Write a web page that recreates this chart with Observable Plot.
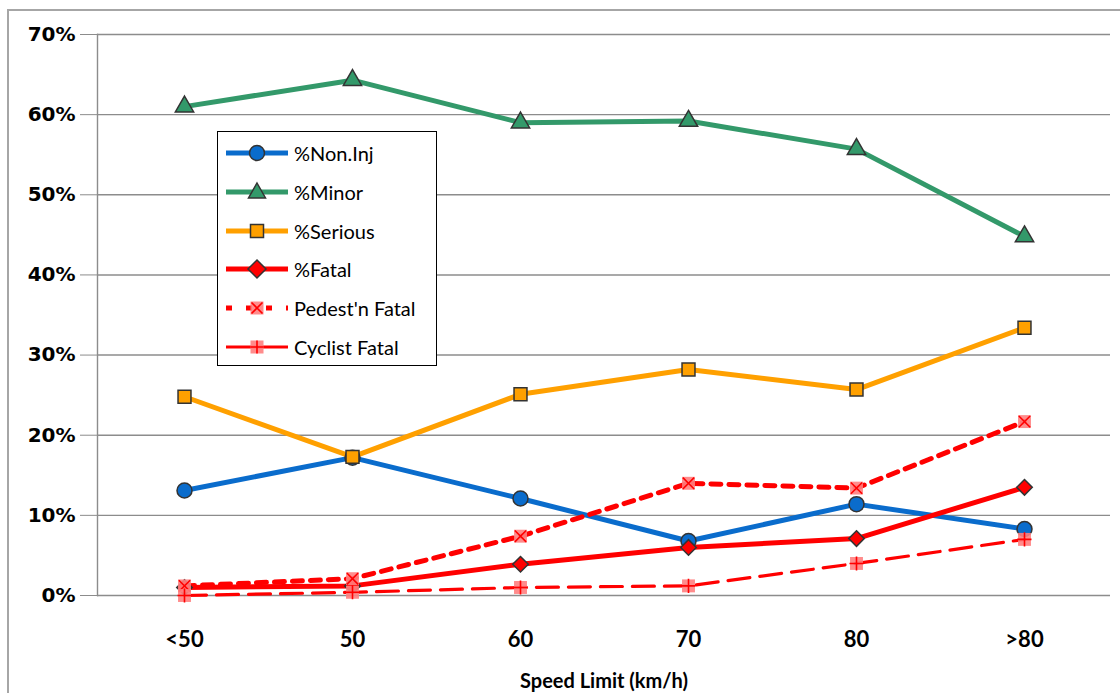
<!DOCTYPE html>
<html><head><meta charset="utf-8">
<script src="https://cdn.jsdelivr.net/npm/d3@7"></script>
<script src="https://cdn.jsdelivr.net/npm/@observablehq/plot@0.6"></script>
<style>
body{margin:0;background:#fff;}
#wrap{position:relative;width:1120px;height:693px;overflow:hidden;background:#fff;}
#frame{position:absolute;left:7px;top:9px;width:1300px;height:900px;border-left:2px solid #a6a6a6;border-top:2px solid #a6a6a6;pointer-events:none;}
#chart{position:absolute;left:0;top:0;}
#legend{position:absolute;left:217px;top:131px;width:218px;height:233px;border:1.5px solid #000;background:#fff;font-family:Lato,"Open Sans",sans-serif;font-size:20px;color:#000;}
.row{position:absolute;left:6px;height:30px;display:flex;align-items:center;}
.row svg{display:block;}
.row span{margin-left:4px;}
</style>
</head><body>
<div id="wrap"><div id="chart"></div><div id="frame"></div><div id="legend"></div></div>
<script>
const categories = ["<50","50","60","70","80",">80"];
const seriesNames = ["%Non.Inj","%Minor","%Serious","%Fatal","Pedest'n Fatal","Cyclist Fatal"];
const nonInj  = [13.1, 17.2, 12.1, 6.8, 11.4, 8.3];
const minor   = [61.0, 64.3, 59.0, 59.2, 55.7, 44.8];
const serious = [24.8, 17.3, 25.1, 28.2, 25.7, 33.4];
const fatal   = [1.0, 1.2, 3.9, 6.0, 7.1, 13.5];
const pedest  = [1.2, 2.1, 7.4, 14.0, 13.4, 21.7];
const cyclist = [0.0, 0.4, 1.0, 1.2, 4.0, 7.0];
const yTicks  = [0, 10, 20, 30, 40, 50, 60, 70];

const values = [nonInj, minor, serious, fatal, pedest, cyclist];
const styles = [
  {color:"#0a6ccc", width:5, dash:null, symbol:"circle", r:7.5, fill:"#0a6ccc", mstroke:"#333"},
  {color:"#33996a", width:5, dash:null, symbol:"triangle", r:6.8, fill:"#33996a", mstroke:"#333"},
  {color:"#ffa000", width:5, dash:null, symbol:"square", r:7.3, fill:"#ffa000", mstroke:"#333"},
  {color:"#ff0000", width:5, dash:null, symbol:"diamond2", r:7, fill:"#ff0000", mstroke:"#333"},
  {color:"#ff0000", width:5, dash:"10,8", symbol:"times", r:7.3, fill:"#ff8080", mstroke:"#ff0000"},
  {color:"#ff0000", width:3.2, dash:"22,10", symbol:"plus", r:7.3, fill:"#ff8080", mstroke:"#ff0000"}
];

const data = seriesNames.flatMap((s, i) => categories.map((c, j) => ({series: s, cat: c, value: values[i][j]})));

const marks = [
  Plot.gridY(yTicks, {stroke:"#8c8c8c", strokeOpacity:1, strokeWidth:1.4}),
  Plot.frame({anchor:"left", stroke:"#8c8c8c", strokeWidth:1.4}),
  Plot.axisY(yTicks, {tickSize:17, tickPadding:5, tickFormat:d => d + "%", stroke:"#8c8c8c",
    fontFamily:"DejaVu Sans", fontWeight:"bold", fontSize:20, label:null}),
  Plot.axisX({tickSize:0, tickPadding:36, fontFamily:"Lato", fontWeight:"bold", fontSize:22, label:null}),
  Plot.text(["Speed Limit (km/h)"], {frameAnchor:"bottom", dy:86, lineAnchor:"middle",
    fontFamily:"Lato", fontWeight:"bold", fontSize:20})
];
seriesNames.forEach((s, i) => {
  const st = styles[i];
  marks.push(Plot.line(data.filter(d => d.series === s), {x:"cat", y:"value", stroke:st.color,
    strokeWidth:st.width, strokeDasharray:st.dash, strokeLinejoin:"round"}));
});
seriesNames.forEach((s, i) => {
  const st = styles[i];
  const d = data.filter(d => d.series === s);
  if (st.symbol === "times" || st.symbol === "plus") {
    marks.push(Plot.dot(d, {x:"cat", y:"value", symbol:"square", r:st.r, fill:st.fill, fillOpacity:0.9, stroke:"none"}));
    marks.push(Plot.dot(d, {x:"cat", y:"value", symbol:st.symbol, r:st.symbol === "times" ? 5.2 : 4.6, stroke:st.mstroke, strokeWidth:1.6}));
  } else {
    marks.push(Plot.dot(d, {x:"cat", y:"value", symbol:st.symbol, r:st.r, fill:st.fill, stroke:st.mstroke, strokeWidth:1.5}));
  }
});

const chart = Plot.plot({
  width:1120, height:693,
  marginLeft:97, marginRight:10, marginTop:34, marginBottom:98,
  x:{type:"point", domain:categories, padding:0.5},
  y:{domain:[0,70]},
  style:{background:"transparent"},
  marks
});
document.getElementById("chart").appendChild(chart);

// Legend
const legend = document.getElementById("legend");
const symPath = {
  circle: '<circle cx="0" cy="0" r="7.5" />',
  triangle: '<path d="M0,-9L8.5,6L-8.5,6Z" />',
  square: '<rect x="-6.5" y="-6.5" width="13" height="13" />',
  diamond2: '<path d="M0,-9L9,0L0,9L-9,0Z" />'
};
seriesNames.forEach((s, i) => {
  const st = styles[i];
  const row = document.createElement("div");
  row.className = "row";
  row.style.top = (6 + i * 38.8) + "px";
  let marker;
  if (st.symbol === "times") {
    marker = `<rect x="-6.5" y="-6.5" width="13" height="13" fill="${st.fill}" fill-opacity="0.9"/><path d="M-5.5,-5.5L5.5,5.5M5.5,-5.5L-5.5,5.5" stroke="${st.mstroke}" stroke-width="1.6"/>`;
  } else if (st.symbol === "plus") {
    marker = `<rect x="-6.5" y="-6.5" width="13" height="13" fill="${st.fill}" fill-opacity="0.9"/><path d="M0,-6.5V6.5M-6.5,0H6.5" stroke="${st.mstroke}" stroke-width="1.6"/>`;
  } else {
    marker = `<g fill="${st.fill}" stroke="${st.mstroke}" stroke-width="1.5">${symPath[st.symbol]}</g>`;
  }
  const dash = st.dash ? (i === 4 ? 'stroke-dasharray="6,14"' : '') : '';
  row.innerHTML = `<svg width="66" height="24"><line x1="2" x2="64" y1="12" y2="12" stroke="${st.color}" stroke-width="${st.width}" ${dash}/><g transform="translate(33,12)">${marker}</g></svg><span>${s}</span>`;
  legend.appendChild(row);
});
</script>
</body></html>
